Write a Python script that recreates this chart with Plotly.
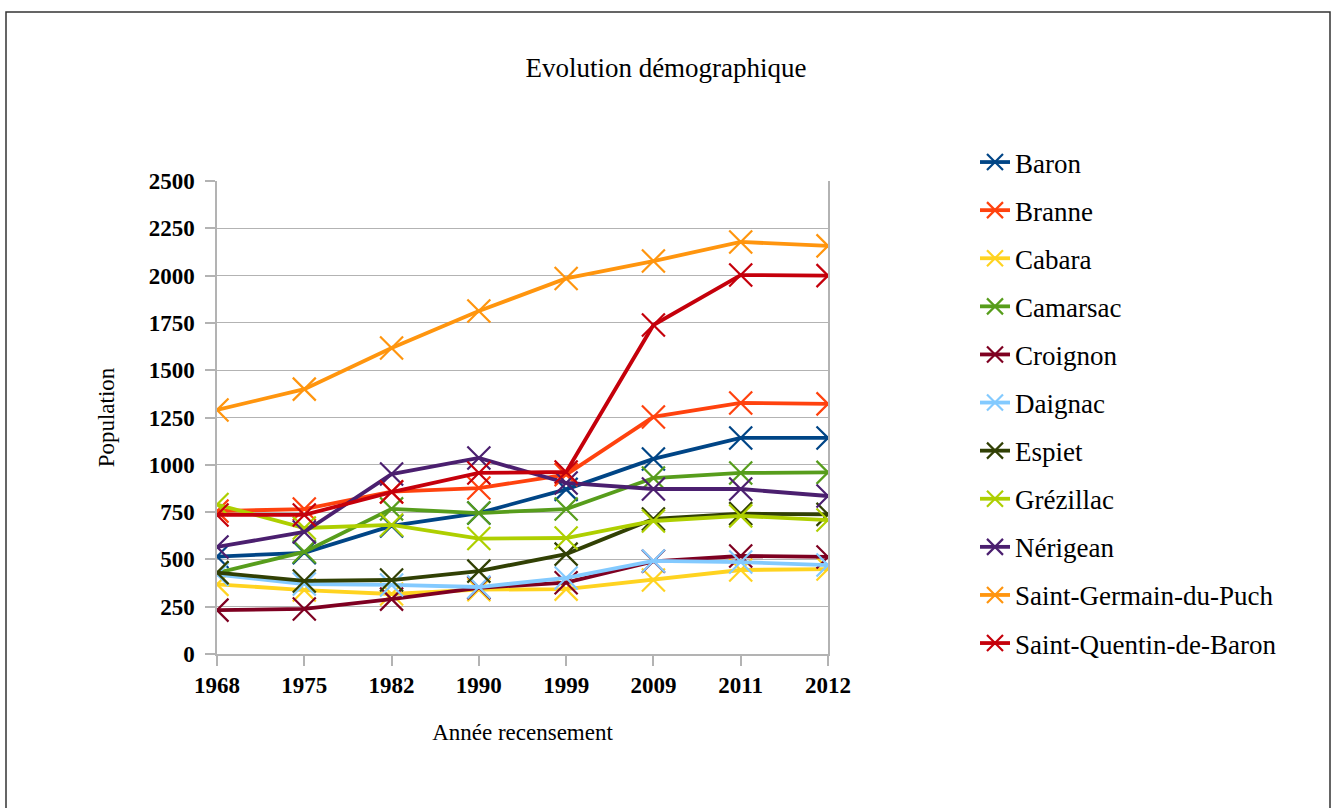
import plotly.graph_objects as go

years = ["1968", "1975", "1982", "1990", "1999", "2009", "2011", "2012"]

baron = [515, 535, 677, 745, 870, 1031, 1142, 1142]
branne = [755, 766, 858, 877, 948, 1253, 1327, 1322]
cabara = [368, 338, 317, 340, 343, 391, 444, 449]
camarsac = [428, 540, 767, 745, 766, 930, 957, 960]
croignon = [232, 238, 290, 350, 377, 490, 518, 513]
daignac = [420, 370, 365, 354, 402, 492, 486, 470]
espiet = [430, 386, 391, 438, 528, 714, 742, 738]
grezillac = [790, 666, 682, 610, 613, 703, 730, 708]
nerigean = [566, 645, 951, 1036, 904, 872, 872, 835]
st_germain = [1290, 1400, 1617, 1813, 1985, 2077, 2178, 2157]
st_quentin = [735, 735, 856, 957, 962, 1739, 2003, 2000]

names = ["Baron", "Branne", "Cabara", "Camarsac", "Croignon", "Daignac", "Espiet",
         "Grézillac", "Nérigean", "Saint-Germain-du-Puch", "Saint-Quentin-de-Baron"]
series = [baron, branne, cabara, camarsac, croignon, daignac, espiet,
          grezillac, nerigean, st_germain, st_quentin]
colors = ["#004586", "#ff420e", "#ffd320", "#579d1c", "#7e0021", "#83caff",
          "#314004", "#aecf00", "#4b1f6f", "#ff950e", "#c5000b"]

FONT = "Liberation Serif"

fig = go.Figure()
for i, (n, s, c) in enumerate(zip(names, series, colors)):
    fig.add_trace(go.Scatter(
        x=years, y=s, name=n, mode="lines+markers",
        legendgroup=str(i),
        line=dict(color=c, width=3.8),
        marker=dict(symbol="x-thin", size=23, color=c, line=dict(color=c, width=2.2)),
    ))

L, R, T, B = 217, 828, 181, 654
W, H = 1332, 808
pw, ph = R - L, B - T

def px(x):
    return (x - L) / pw

def py(y):
    return (B - y) / ph

fig.update_layout(
    width=W, height=H,
    margin=dict(l=L, r=W - R, t=T, b=H - B),
    paper_bgcolor="white", plot_bgcolor="white",
    font=dict(family=FONT, color="black"),
    title=dict(text="Evolution démographique", x=0.5, xref="container", xanchor="center",
               y=1 - 68 / H, yref="container", yanchor="middle",
               font=dict(size=27, family=FONT)),
    showlegend=True,
    legend=dict(x=px(975), y=py(138), xanchor="left", yanchor="top",
                font=dict(size=27, family=FONT), tracegroupgap=10,
                maxheight=700,
                bgcolor="rgba(0,0,0,0)"),
    shapes=[dict(type="rect", xref="paper", yref="paper",
                 x0=px(6), x1=px(1330), y0=py(830), y1=py(12),
                 line=dict(color="#333333", width=1.5), layer="below")],
)

fig.update_xaxes(
    type="category", showgrid=False, showline=True, linecolor="#b3b3b3", linewidth=1.5,
    ticks="outside", ticklen=10, tickcolor="#b3b3b3", tickwidth=1.5,
    tickfont=dict(size=23, family=FONT, weight="bold"),
    title=dict(text="Année recensement", font=dict(size=23, family=FONT), standoff=27),
    range=[0, 7], zeroline=False,
)
fig.update_yaxes(
    range=[0, 2500], tickvals=list(range(0, 2501, 250)),
    showgrid=True, gridcolor="#b3b3b3", gridwidth=1.2,
    showline=True, linecolor="#b3b3b3", linewidth=1.5, mirror=True,
    ticks="outside", ticklen=10, tickcolor="#b3b3b3", tickwidth=1.5,
    ticklabelstandoff=6,
    tickfont=dict(size=23, family=FONT, weight="bold"),
    title=dict(text="Population", font=dict(size=23, family=FONT), standoff=28),
    zeroline=False,
)

fig.write_html("out.html", config={"displayModeBar": False},
               post_script="document.body.style.margin='0';")
